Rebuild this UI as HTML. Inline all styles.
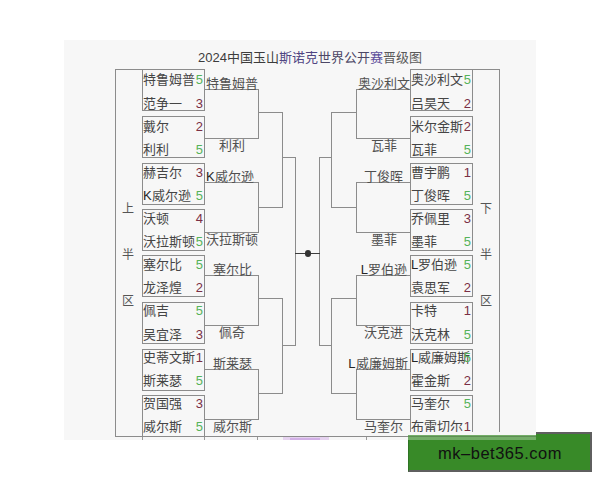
<!DOCTYPE html>
<html lang="zh-CN"><head><meta charset="utf-8">
<style>
html,body{margin:0;padding:0;background:#fff;width:600px;height:480px;overflow:hidden}
#wrap div{position:absolute}
.s,.n{white-space:nowrap;line-height:20px;height:20px}
.s{font-family:"Liberation Serif",serif}
.n{font-family:"Liberation Sans",sans-serif}
span.n{line-height:inherit;height:auto}
</style></head><body>
<div id="wrap" style="position:relative;width:600px;height:480px">
<div style="left:64px;top:40px;width:472px;height:400px;background:#f7f7f7"></div>
<div style="left:142px;top:69px;width:63px;height:42px;box-sizing:border-box;border-top:1px solid #8c8c8c;border-right:1px solid #8c8c8c;border-bottom:1px solid #8c8c8c;border-left:1px solid #8c8c8c;"></div>
<div class="s" style="left:143px;top:70.35px;font-size:13px;color:#454545;">特鲁姆普</div>
<div class="s" style="left:143px;top:93.65px;font-size:13px;color:#454545;">范争一</div>
<div class="n" style="left:183px;top:70.35px;width:20px;text-align:right;font-size:13px;color:#55b35a">5</div>
<div class="n" style="left:183px;top:93.65px;width:20px;text-align:right;font-size:13px;color:#7a2f45">3</div>
<div style="left:142px;top:116px;width:63px;height:42px;box-sizing:border-box;border-top:1px solid #8c8c8c;border-right:1px solid #8c8c8c;border-bottom:1px solid #8c8c8c;border-left:1px solid #8c8c8c;"></div>
<div class="s" style="left:143px;top:116.55px;font-size:13px;color:#454545;">戴尔</div>
<div class="s" style="left:143px;top:139.85px;font-size:13px;color:#454545;">利利</div>
<div class="n" style="left:183px;top:116.55px;width:20px;text-align:right;font-size:13px;color:#7a2f45">2</div>
<div class="n" style="left:183px;top:139.85px;width:20px;text-align:right;font-size:13px;color:#55b35a">5</div>
<div style="left:142px;top:163px;width:63px;height:42px;box-sizing:border-box;border-top:1px solid #8c8c8c;border-right:1px solid #8c8c8c;border-bottom:1px solid #8c8c8c;border-left:1px solid #8c8c8c;"></div>
<div class="s" style="left:143px;top:162.75px;font-size:13px;color:#454545;">赫吉尔</div>
<div class="s" style="left:143px;top:186.05px;font-size:13px;color:#454545;"><span class="n" style="color:#262626">K</span>威尔逊</div>
<div class="n" style="left:183px;top:162.75px;width:20px;text-align:right;font-size:13px;color:#7a2f45">3</div>
<div class="n" style="left:183px;top:186.05px;width:20px;text-align:right;font-size:13px;color:#55b35a">5</div>
<div style="left:142px;top:209px;width:63px;height:42px;box-sizing:border-box;border-top:1px solid #8c8c8c;border-right:1px solid #8c8c8c;border-bottom:1px solid #8c8c8c;border-left:1px solid #8c8c8c;"></div>
<div class="s" style="left:143px;top:208.95px;font-size:13px;color:#454545;">沃顿</div>
<div class="s" style="left:143px;top:232.25px;font-size:13px;color:#454545;">沃拉斯顿</div>
<div class="n" style="left:183px;top:208.95px;width:20px;text-align:right;font-size:13px;color:#7a2f45">4</div>
<div class="n" style="left:183px;top:232.25px;width:20px;text-align:right;font-size:13px;color:#55b35a">5</div>
<div style="left:142px;top:255px;width:63px;height:42px;box-sizing:border-box;border-top:1px solid #8c8c8c;border-right:1px solid #8c8c8c;border-bottom:1px solid #8c8c8c;border-left:1px solid #8c8c8c;"></div>
<div class="s" style="left:143px;top:255.15px;font-size:13px;color:#454545;">塞尔比</div>
<div class="s" style="left:143px;top:278.45px;font-size:13px;color:#454545;">龙泽煌</div>
<div class="n" style="left:183px;top:255.15px;width:20px;text-align:right;font-size:13px;color:#55b35a">5</div>
<div class="n" style="left:183px;top:278.45px;width:20px;text-align:right;font-size:13px;color:#7a2f45">2</div>
<div style="left:142px;top:302px;width:63px;height:42px;box-sizing:border-box;border-top:1px solid #8c8c8c;border-right:1px solid #8c8c8c;border-bottom:1px solid #8c8c8c;border-left:1px solid #8c8c8c;"></div>
<div class="s" style="left:143px;top:301.35px;font-size:13px;color:#454545;">佩吉</div>
<div class="s" style="left:143px;top:324.65px;font-size:13px;color:#454545;">吴宜泽</div>
<div class="n" style="left:183px;top:301.35px;width:20px;text-align:right;font-size:13px;color:#55b35a">5</div>
<div class="n" style="left:183px;top:324.65px;width:20px;text-align:right;font-size:13px;color:#7a2f45">3</div>
<div style="left:142px;top:349px;width:63px;height:42px;box-sizing:border-box;border-top:1px solid #8c8c8c;border-right:1px solid #8c8c8c;border-bottom:1px solid #8c8c8c;border-left:1px solid #8c8c8c;"></div>
<div class="s" style="left:143px;top:347.55px;font-size:13px;color:#454545;">史蒂文斯</div>
<div class="s" style="left:143px;top:370.85px;font-size:13px;color:#454545;">斯莱瑟</div>
<div class="n" style="left:183px;top:347.55px;width:20px;text-align:right;font-size:13px;color:#7a2f45">1</div>
<div class="n" style="left:183px;top:370.85px;width:20px;text-align:right;font-size:13px;color:#55b35a">5</div>
<div style="left:142px;top:395px;width:63px;height:42px;box-sizing:border-box;border-top:1px solid #8c8c8c;border-right:1px solid #8c8c8c;border-bottom:1px solid #8c8c8c;border-left:1px solid #8c8c8c;"></div>
<div class="s" style="left:143px;top:393.75px;font-size:13px;color:#454545;">贺国强</div>
<div class="s" style="left:143px;top:417.05px;font-size:13px;color:#454545;">威尔斯</div>
<div class="n" style="left:183px;top:393.75px;width:20px;text-align:right;font-size:13px;color:#7a2f45">3</div>
<div class="n" style="left:183px;top:417.05px;width:20px;text-align:right;font-size:13px;color:#55b35a">5</div>
<div style="left:410px;top:69px;width:63px;height:42px;box-sizing:border-box;border-top:1px solid #8c8c8c;border-right:1px solid #8c8c8c;border-bottom:1px solid #8c8c8c;border-left:1px solid #8c8c8c;"></div>
<div class="s" style="left:411px;top:70.35px;font-size:13px;color:#454545;">奥沙利文</div>
<div class="s" style="left:411px;top:93.65px;font-size:13px;color:#454545;">吕昊天</div>
<div class="n" style="left:451px;top:70.35px;width:20px;text-align:right;font-size:13px;color:#55b35a">5</div>
<div class="n" style="left:451px;top:93.65px;width:20px;text-align:right;font-size:13px;color:#7a2f45">2</div>
<div style="left:410px;top:116px;width:63px;height:42px;box-sizing:border-box;border-top:1px solid #8c8c8c;border-right:1px solid #8c8c8c;border-bottom:1px solid #8c8c8c;border-left:1px solid #8c8c8c;"></div>
<div class="s" style="left:411px;top:116.55px;font-size:13px;color:#454545;">米尔金斯</div>
<div class="s" style="left:411px;top:139.85px;font-size:13px;color:#454545;">瓦菲</div>
<div class="n" style="left:451px;top:116.55px;width:20px;text-align:right;font-size:13px;color:#7a2f45">2</div>
<div class="n" style="left:451px;top:139.85px;width:20px;text-align:right;font-size:13px;color:#55b35a">5</div>
<div style="left:410px;top:163px;width:63px;height:42px;box-sizing:border-box;border-top:1px solid #8c8c8c;border-right:1px solid #8c8c8c;border-bottom:1px solid #8c8c8c;border-left:1px solid #8c8c8c;"></div>
<div class="s" style="left:411px;top:162.75px;font-size:13px;color:#454545;">曹宇鹏</div>
<div class="s" style="left:411px;top:186.05px;font-size:13px;color:#454545;">丁俊晖</div>
<div class="n" style="left:451px;top:162.75px;width:20px;text-align:right;font-size:13px;color:#7a2f45">1</div>
<div class="n" style="left:451px;top:186.05px;width:20px;text-align:right;font-size:13px;color:#55b35a">5</div>
<div style="left:410px;top:209px;width:63px;height:42px;box-sizing:border-box;border-top:1px solid #8c8c8c;border-right:1px solid #8c8c8c;border-bottom:1px solid #8c8c8c;border-left:1px solid #8c8c8c;"></div>
<div class="s" style="left:411px;top:208.95px;font-size:13px;color:#454545;">乔佩里</div>
<div class="s" style="left:411px;top:232.25px;font-size:13px;color:#454545;">墨菲</div>
<div class="n" style="left:451px;top:208.95px;width:20px;text-align:right;font-size:13px;color:#7a2f45">3</div>
<div class="n" style="left:451px;top:232.25px;width:20px;text-align:right;font-size:13px;color:#55b35a">5</div>
<div style="left:410px;top:255px;width:63px;height:42px;box-sizing:border-box;border-top:1px solid #8c8c8c;border-right:1px solid #8c8c8c;border-bottom:1px solid #8c8c8c;border-left:1px solid #8c8c8c;"></div>
<div class="s" style="left:411px;top:255.15px;font-size:13px;color:#454545;"><span class="n" style="color:#262626">L</span>罗伯逊</div>
<div class="s" style="left:411px;top:278.45px;font-size:13px;color:#454545;">袁思军</div>
<div class="n" style="left:451px;top:255.15px;width:20px;text-align:right;font-size:13px;color:#55b35a">5</div>
<div class="n" style="left:451px;top:278.45px;width:20px;text-align:right;font-size:13px;color:#7a2f45">2</div>
<div style="left:410px;top:302px;width:63px;height:42px;box-sizing:border-box;border-top:1px solid #8c8c8c;border-right:1px solid #8c8c8c;border-bottom:1px solid #8c8c8c;border-left:1px solid #8c8c8c;"></div>
<div class="s" style="left:411px;top:301.35px;font-size:13px;color:#454545;">卡特</div>
<div class="s" style="left:411px;top:324.65px;font-size:13px;color:#454545;">沃克林</div>
<div class="n" style="left:451px;top:301.35px;width:20px;text-align:right;font-size:13px;color:#7a2f45">1</div>
<div class="n" style="left:451px;top:324.65px;width:20px;text-align:right;font-size:13px;color:#55b35a">5</div>
<div style="left:410px;top:349px;width:63px;height:42px;box-sizing:border-box;border-top:1px solid #8c8c8c;border-right:1px solid #8c8c8c;border-bottom:1px solid #8c8c8c;border-left:1px solid #8c8c8c;"></div>
<div class="s" style="left:411px;top:347.55px;font-size:13px;color:#454545;"><span class="n" style="color:#262626">L</span>威廉姆斯</div>
<div class="s" style="left:411px;top:370.85px;font-size:13px;color:#454545;">霍金斯</div>
<div class="n" style="left:451px;top:347.55px;width:20px;text-align:right;font-size:13px;color:#55b35a">5</div>
<div class="n" style="left:451px;top:370.85px;width:20px;text-align:right;font-size:13px;color:#7a2f45">2</div>
<div style="left:410px;top:395px;width:63px;height:42px;box-sizing:border-box;border-top:1px solid #8c8c8c;border-right:1px solid #8c8c8c;border-bottom:1px solid #8c8c8c;border-left:1px solid #8c8c8c;"></div>
<div class="s" style="left:411px;top:393.75px;font-size:13px;color:#454545;">马奎尔</div>
<div class="s" style="left:411px;top:417.05px;font-size:13px;color:#454545;">布雷切尔</div>
<div class="n" style="left:451px;top:393.75px;width:20px;text-align:right;font-size:13px;color:#55b35a">5</div>
<div class="n" style="left:451px;top:417.05px;width:20px;text-align:right;font-size:13px;color:#7a2f45">1</div>
<div style="left:205px;top:89px;width:54px;height:50px;box-sizing:border-box;border-top:1px solid #8c8c8c;border-right:1px solid #8c8c8c;border-bottom:1px solid #8c8c8c;"></div>
<div style="left:356px;top:89px;width:54px;height:50px;box-sizing:border-box;border-top:1px solid #8c8c8c;border-bottom:1px solid #8c8c8c;border-left:1px solid #8c8c8c;"></div>
<div style="left:205px;top:182px;width:54px;height:51px;box-sizing:border-box;border-top:1px solid #8c8c8c;border-right:1px solid #8c8c8c;border-bottom:1px solid #8c8c8c;"></div>
<div style="left:356px;top:182px;width:54px;height:51px;box-sizing:border-box;border-top:1px solid #8c8c8c;border-bottom:1px solid #8c8c8c;border-left:1px solid #8c8c8c;"></div>
<div style="left:205px;top:275px;width:54px;height:51px;box-sizing:border-box;border-top:1px solid #8c8c8c;border-right:1px solid #8c8c8c;border-bottom:1px solid #8c8c8c;"></div>
<div style="left:356px;top:275px;width:54px;height:51px;box-sizing:border-box;border-top:1px solid #8c8c8c;border-bottom:1px solid #8c8c8c;border-left:1px solid #8c8c8c;"></div>
<div style="left:205px;top:369px;width:54px;height:51px;box-sizing:border-box;border-top:1px solid #8c8c8c;border-right:1px solid #8c8c8c;border-bottom:1px solid #8c8c8c;"></div>
<div style="left:356px;top:369px;width:54px;height:51px;box-sizing:border-box;border-top:1px solid #8c8c8c;border-bottom:1px solid #8c8c8c;border-left:1px solid #8c8c8c;"></div>
<div style="left:259px;top:112px;width:24px;height:1px;background:#8c8c8c;"></div>
<div style="left:259px;top:207px;width:24px;height:1px;background:#8c8c8c;"></div>
<div style="left:282px;top:112px;width:1px;height:96px;background:#8c8c8c;"></div>
<div style="left:331px;top:112px;width:25px;height:1px;background:#8c8c8c;"></div>
<div style="left:331px;top:207px;width:25px;height:1px;background:#8c8c8c;"></div>
<div style="left:331px;top:112px;width:1px;height:96px;background:#8c8c8c;"></div>
<div style="left:259px;top:298px;width:24px;height:1px;background:#8c8c8c;"></div>
<div style="left:259px;top:393px;width:24px;height:1px;background:#8c8c8c;"></div>
<div style="left:282px;top:298px;width:1px;height:96px;background:#8c8c8c;"></div>
<div style="left:331px;top:298px;width:25px;height:1px;background:#8c8c8c;"></div>
<div style="left:331px;top:393px;width:25px;height:1px;background:#8c8c8c;"></div>
<div style="left:331px;top:298px;width:1px;height:96px;background:#8c8c8c;"></div>
<div style="left:282px;top:157px;width:14px;height:1px;background:#8c8c8c;"></div>
<div style="left:282px;top:345px;width:14px;height:1px;background:#8c8c8c;"></div>
<div style="left:295px;top:157px;width:1px;height:189px;background:#8c8c8c;"></div>
<div style="left:319px;top:157px;width:13px;height:1px;background:#8c8c8c;"></div>
<div style="left:319px;top:345px;width:13px;height:1px;background:#8c8c8c;"></div>
<div style="left:319px;top:157px;width:1px;height:189px;background:#8c8c8c;"></div>
<div style="left:295px;top:253px;width:25px;height:1px;background:#3c3c3c;"></div>
<div style="left:304.75px;top:250.25px;width:6.5px;height:6.5px;border-radius:50%;background:#333"></div>
<div style="left:115px;top:69px;width:28px;height:1px;background:#8c8c8c;"></div>
<div style="left:115px;top:69px;width:1px;height:368px;background:#8c8c8c;"></div>
<div style="left:472px;top:69px;width:28px;height:1px;background:#8c8c8c;"></div>
<div style="left:499px;top:69px;width:1px;height:368px;background:#8c8c8c;"></div>
<div style="left:115px;top:436px;width:385px;height:1px;background:#8c8c8c;"></div>
<div class="s" style="left:192.3px;top:73.5px;width:80px;text-align:center;font-size:13px;color:#505050;">特鲁姆普</div>
<div class="s" style="left:192.3px;top:136px;width:80px;text-align:center;font-size:13px;color:#505050;">利利</div>
<div class="s" style="left:343.8px;top:73.5px;width:80px;text-align:center;font-size:13px;color:#505050;">奥沙利文</div>
<div class="s" style="left:343.8px;top:136px;width:80px;text-align:center;font-size:13px;color:#505050;">瓦菲</div>
<div class="s" style="left:206px;top:166.5px;font-size:13px;color:#505050;"><span class="n" style="color:#262626">K</span>威尔逊</div>
<div class="s" style="left:192.3px;top:230px;width:80px;text-align:center;font-size:13px;color:#505050;">沃拉斯顿</div>
<div class="s" style="left:343.8px;top:166.5px;width:80px;text-align:center;font-size:13px;color:#505050;">丁俊晖</div>
<div class="s" style="left:343.8px;top:230px;width:80px;text-align:center;font-size:13px;color:#505050;">墨菲</div>
<div class="s" style="left:192.3px;top:259.5px;width:80px;text-align:center;font-size:13px;color:#505050;">塞尔比</div>
<div class="s" style="left:192.3px;top:323px;width:80px;text-align:center;font-size:13px;color:#505050;">佩奇</div>
<div class="s" style="left:343.8px;top:259.5px;width:80px;text-align:center;font-size:13px;color:#505050;"><span class="n" style="color:#262626">L</span>罗伯逊</div>
<div class="s" style="left:343.8px;top:323px;width:80px;text-align:center;font-size:13px;color:#505050;">沃克进</div>
<div class="s" style="left:192.3px;top:353.5px;width:80px;text-align:center;font-size:13px;color:#505050;">斯莱瑟</div>
<div class="s" style="left:192.3px;top:417px;width:80px;text-align:center;font-size:13px;color:#505050;">威尔斯</div>
<div class="s" style="left:307.5px;top:353.5px;width:100px;text-align:right;font-size:13px;color:#505050"><span class="n" style="color:#262626">L</span>威廉姆斯</div>
<div class="s" style="left:343.8px;top:417px;width:80px;text-align:center;font-size:13px;color:#505050;">马奎尔</div>
<div class="s" style="left:118.0px;top:198.7px;width:20px;text-align:center;font-size:12px;color:#555;">上</div>
<div class="s" style="left:118.0px;top:245.3px;width:20px;text-align:center;font-size:12px;color:#555;">半</div>
<div class="s" style="left:118.0px;top:290.5px;width:20px;text-align:center;font-size:12px;color:#555;">区</div>
<div class="s" style="left:475.5px;top:198.7px;width:20px;text-align:center;font-size:12px;color:#555;">下</div>
<div class="s" style="left:475.5px;top:245.3px;width:20px;text-align:center;font-size:12px;color:#555;">半</div>
<div class="s" style="left:475.5px;top:290.5px;width:20px;text-align:center;font-size:12px;color:#555;">区</div>
<div class="s" style="left:198px;top:47.5px;font-size:13px;color:#454545;"><span class="n" style="color:#3c3c3c">2024</span><span style="color:#3c3c3c">中国玉山</span><span style="color:#4f4582">斯诺克</span><span style="color:#4c4766">世界公开</span><span style="color:#5b4c9a">赛</span><span style="color:#5a5a5a">晋级图</span></div>
<div style="left:283px;top:437px;width:46px;height:3px;background:#e6d3f0"></div><div style="left:290px;top:438px;width:30px;height:2px;background:#d2b0e6"></div><div style="left:257px;top:437px;width:1px;height:3px;background:#999"></div><div style="left:366px;top:437px;width:1px;height:3px;background:#999"></div><div style="left:142px;top:437px;width:1px;height:3px;background:#999"></div><div style="left:204px;top:437px;width:1px;height:3px;background:#999"></div>
<div style="left:408px;top:432px;width:184px;height:40px;box-sizing:border-box;background:#388a28;border:2px solid #5f5f5f;border-left:1px solid #2f7424"></div>
<div style="left:408px;top:432px;width:128px;height:3px;background:#f7f7f7"></div>
<div style="left:408px;top:435px;width:128px;height:5px;background:#74ae69"></div><div style="left:408px;top:436px;width:128px;height:1px;background:#5e8e54"></div>
<div class="n" style="left:408px;top:443px;width:184px;text-align:center;font-size:16.5px;line-height:20px;height:20px;color:#111;letter-spacing:0.5px">mk&ndash;bet365.com</div>
</div>
</body></html>
